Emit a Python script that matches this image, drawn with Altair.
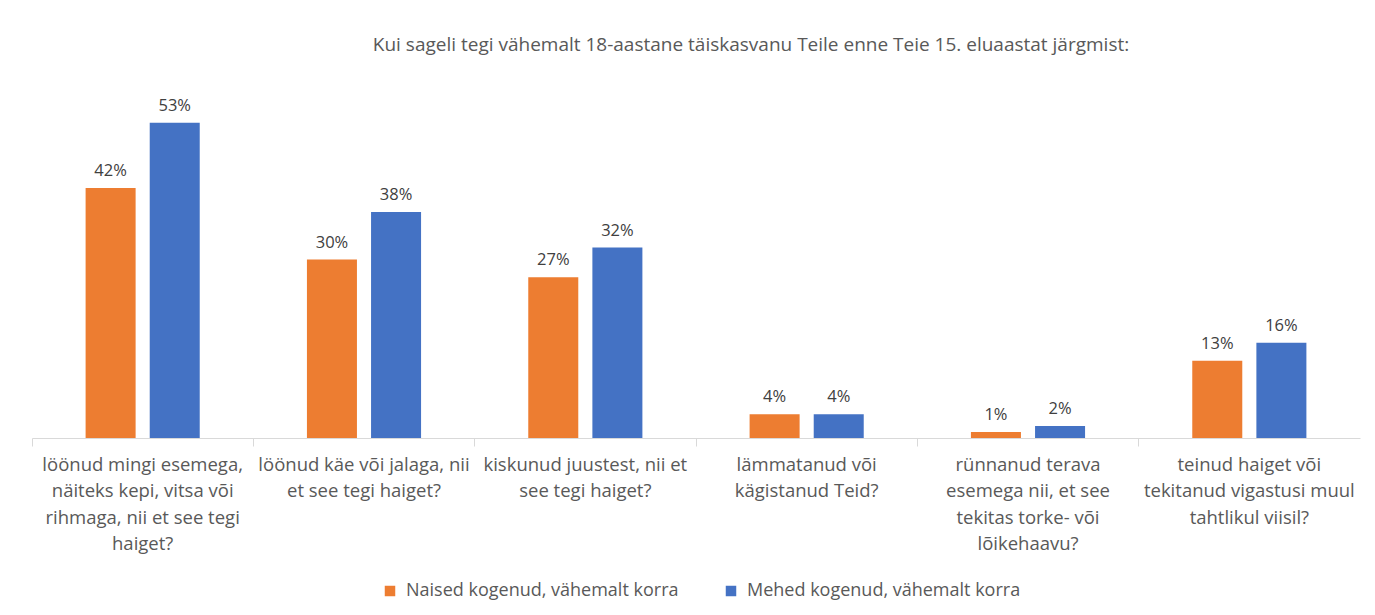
import altair as alt
import pandas as pd

categories = [
    "löönud mingi esemega,|näiteks kepi, vitsa või|rihmaga, nii et see tegi|haiget?",
    "löönud käe või jalaga, nii|et see tegi haiget?",
    "kiskunud juustest, nii et|see tegi haiget?",
    "lämmatanud või|kägistanud Teid?",
    "rünnanud terava|esemega nii, et see|tekitas torke- või|lõikehaavu?",
    "teinud haiget või|tekitanud vigastusi muul|tahtlikul viisil?",
]
series = ["Naised kogenud, vähemalt korra", "Mehed kogenud, vähemalt korra"]
naised = [42, 30, 27, 4, 1, 13]
mehed = [53, 38, 32, 4, 2, 16]
colors = ["#ED7D31", "#4472C4"]

rows = []
for c, n, m in zip(categories, naised, mehed):
    rows.append({"cat": c, "series": series[0], "value": n})
    rows.append({"cat": c, "series": series[1], "value": m})
df = pd.DataFrame(rows)
df["label"] = df["value"].astype(str) + "%"

FONT = "Open Sans"
GREY = "#595959"

x = alt.X(
    "cat:N",
    sort=categories,
    title=None,
    scale=alt.Scale(paddingInner=0, paddingOuter=0),
    axis=alt.Axis(
        labelExpr="split(datum.label, '|')",
        labelAngle=0,
        labelFont=FONT,
        labelFontSize=18.5,
        labelColor=GREY,
        labelLineHeight=26.5,
        labelPadding=9,
        labelLimit=300,
        labelBaseline="top",
        bandPosition=0,
        tickSize=8,
        tickColor="#d9d9d9",
        domainColor="#d9d9d9",
        grid=False,
    ),
)
xo = alt.XOffset(
    "series:N",
    sort=series,
    scale=alt.Scale(paddingInner=0.22, paddingOuter=0.836),
)
y = alt.Y("value:Q", scale=alt.Scale(domain=[0, 60]), axis=None)

bars = alt.Chart(df).mark_bar().encode(
    x=x,
    xOffset=xo,
    y=y,
    color=alt.Color(
        "series:N",
        sort=series,
        scale=alt.Scale(domain=series, range=colors),
        legend=alt.Legend(
            title=None,
            orient="none",
            direction="horizontal",
            legendX=349,
            legendY=501,
            symbolType="square",
            symbolSize=110,
            symbolStrokeWidth=0,
            labelOffset=7,
            labelFont=FONT,
            labelFontSize=18,
            labelColor=GREY,
            columnPadding=43,
            labelLimit=400,
        ),
    ),
)

labels = alt.Chart(df).mark_text(
    baseline="bottom", dy=-9, font=FONT, fontSize=16.5, color="#404040"
).encode(x=alt.X("cat:N", sort=categories), xOffset=xo, y=y, text="label:N")

chart = (
    alt.layer(bars, labels)
    .properties(
        width=1328,
        height=357,
        autosize=alt.AutoSizeParams(type="none"),
        padding={"left": 24, "top": 73, "right": 7, "bottom": 169},
        title=alt.Title(
            "Kui sageli tegi vähemalt 18-aastane täiskasvanu Teile enne Teie 15. eluaastat järgmist:",
            font=FONT,
            fontSize=19,
            fontWeight="normal",
            color=GREY,
            anchor="middle",
            dx=55,
            offset=26,
        ),
    )
    .configure_view(stroke=None)
)

chart.save("out.html", embed_options={"renderer": "svg", "actions": False})
